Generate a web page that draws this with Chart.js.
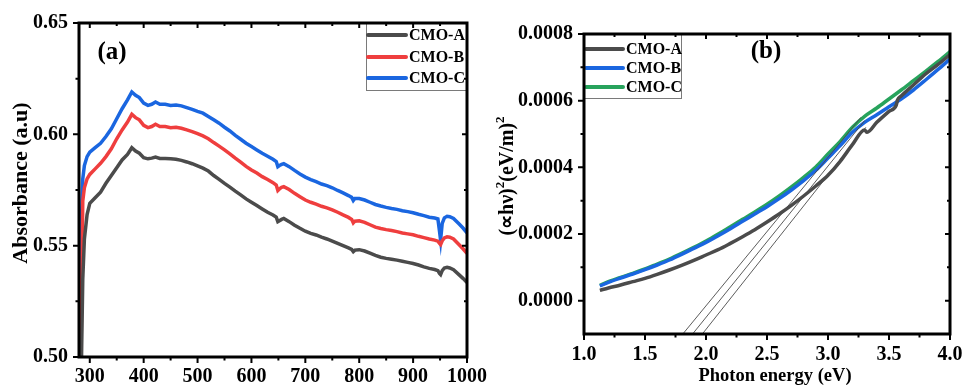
<!DOCTYPE html>
<html><head><meta charset="utf-8">
<script src="https://cdn.jsdelivr.net/npm/chart.js@4.4.1/dist/chart.umd.min.js"></script>
<style>
html,body{margin:0;padding:0;background:#fff;width:972px;height:388px;overflow:hidden}
#ca{position:absolute;left:0;top:0}
#cb{position:absolute;left:490px;top:0}
</style></head><body>
<canvas id="ca" width="490" height="388"></canvas>
<canvas id="cb" width="482" height="388"></canvas>
<script>
// ---------- Panel (a): absorbance ----------
const wavelength = [283,285,287,290,295,300,310,320,330,340,350,360,370,378,385,392,400,408,415,422,430,440,450,460,470,480,490,500,510,520,530,540,550,560,570,580,590,600,610,620,630,640,646,649,652,656,660,670,680,690,700,710,720,730,740,750,760,770,780,786,789,792,800,810,820,830,840,850,860,870,880,890,900,910,920,930,940,946,949,951,954,958,963,968,975,985,993,1000];
const absA = [0.47,0.505,0.535,0.553,0.564,0.569,0.5715,0.574,0.578,0.5815,0.585,0.5885,0.591,0.594,0.5925,0.5915,0.5895,0.589,0.5893,0.5898,0.5892,0.5892,0.589,0.5888,0.5883,0.5876,0.5868,0.5858,0.5848,0.5835,0.5815,0.5798,0.578,0.5763,0.5745,0.5728,0.571,0.5695,0.568,0.5665,0.565,0.5638,0.5628,0.5608,0.5612,0.5618,0.5622,0.5608,0.5592,0.5578,0.5565,0.5555,0.5548,0.5538,0.553,0.552,0.551,0.55,0.549,0.5483,0.5473,0.548,0.5482,0.5476,0.5466,0.5456,0.5448,0.5443,0.5439,0.5435,0.543,0.5425,0.542,0.5413,0.5405,0.5398,0.5393,0.5388,0.5375,0.537,0.5388,0.54,0.5403,0.54,0.5392,0.537,0.5352,0.5335];
const absB = [0.48,0.53,0.570,0.576,0.580,0.582,0.5845,0.587,0.590,0.5935,0.598,0.602,0.6055,0.609,0.6075,0.6065,0.604,0.603,0.6035,0.6045,0.6035,0.6035,0.603,0.6032,0.6027,0.602,0.6012,0.6003,0.5993,0.598,0.5963,0.5947,0.593,0.5912,0.5893,0.5875,0.5856,0.584,0.5826,0.581,0.5797,0.5783,0.5772,0.5748,0.5755,0.5762,0.5765,0.5752,0.5735,0.572,0.5705,0.5695,0.5687,0.5677,0.567,0.5661,0.565,0.5638,0.5627,0.5618,0.5602,0.561,0.5612,0.5605,0.5594,0.5583,0.5577,0.5572,0.5568,0.5563,0.5557,0.5553,0.5549,0.5542,0.5536,0.553,0.5525,0.552,0.551,0.5505,0.5522,0.5535,0.554,0.5538,0.553,0.5505,0.5485,0.5465];
const absC = [0.49,0.565,0.580,0.586,0.590,0.592,0.594,0.596,0.599,0.6025,0.607,0.6115,0.6155,0.619,0.6175,0.6165,0.614,0.613,0.6135,0.6145,0.6135,0.6135,0.613,0.6132,0.6128,0.612,0.6112,0.6103,0.6095,0.608,0.6065,0.605,0.6032,0.6015,0.5995,0.5978,0.596,0.5945,0.593,0.5915,0.5902,0.5888,0.5878,0.5855,0.586,0.5865,0.5868,0.5855,0.5838,0.5822,0.5808,0.5797,0.5788,0.5777,0.577,0.576,0.5748,0.5737,0.5725,0.5717,0.5703,0.5712,0.5712,0.5705,0.5695,0.5685,0.5678,0.5672,0.5667,0.5663,0.5657,0.5653,0.5648,0.5641,0.5635,0.5628,0.5624,0.562,0.5565,0.5525,0.56,0.5625,0.5632,0.563,0.5622,0.5598,0.5578,0.5558];
const aXTicks = [300,400,500,600,700,800,900,1000];
const aXMinor = [350,450,550,650,750,850,950];
const aYTicks = [0.50,0.55,0.60,0.65];
const aYMinor = [0.525,0.575,0.625];
const aLabels = ['CMO-A','CMO-B','CMO-C'];

// ---------- Panel (b): Tauc plot ----------
const energyA = [1.13,1.2,1.3,1.4,1.5,1.6,1.7,1.8,1.9,2.0,2.1,2.2,2.3,2.4,2.5,2.6,2.7,2.8,2.9,3.0,3.1,3.2,3.3,3.32,3.4,3.5,3.56,3.57,3.6,3.7,3.8,3.9,4.0];
const taucA = [0.000031,0.000038,0.000047,0.000057,0.000067,0.000079,0.000092,0.000106,0.000121,0.000137,0.000153,0.000172,0.000192,0.000213,0.000236,0.000260,0.000286,0.000314,0.000344,0.000376,0.000418,0.000468,0.000512,0.000505,0.000535,0.000568,0.000587,0.000602,0.000614,0.000647,0.000680,0.000708,0.000738];
const energyBC = [1.13,1.2,1.3,1.4,1.5,1.6,1.7,1.8,1.9,2.0,2.1,2.2,2.3,2.4,2.5,2.6,2.7,2.8,2.9,3.0,3.1,3.2,3.3,3.4,3.5,3.6,3.7,3.8,3.9,4.0];
const taucB = [0.000044,0.000055,0.000068,0.000080,0.000093,0.000107,0.000122,0.000139,0.000157,0.000175,0.000195,0.000216,0.000238,0.000260,0.000282,0.000306,0.000332,0.000360,0.000391,0.000428,0.000465,0.000505,0.000535,0.000558,0.000582,0.000605,0.000632,0.000662,0.000693,0.000725];
const taucC = [0.000046,0.000057,0.000070,0.000082,0.000095,0.000110,0.000125,0.000142,0.000160,0.000179,0.000200,0.000222,0.000244,0.000266,0.000289,0.000314,0.000341,0.000370,0.000401,0.000440,0.000478,0.000520,0.000553,0.000578,0.000605,0.000632,0.000660,0.000688,0.000717,0.000747];
const fitX1 = [1.81,3.27], fitY1 = [-0.0001,0.00055];
const fitX2 = [1.89,3.30], fitY2 = [-0.0001,0.00054];
const fitX3 = [1.97,3.31], fitY3 = [-0.0001,0.00052];
const bXTicks = [1.0,1.5,2.0,2.5,3.0,3.5,4.0];
const bXMinor = [1.25,1.75,2.25,2.75,3.25,3.75];
const bYTicks = [0.0000,0.0002,0.0004,0.0006,0.0008];
const bYMinor = [0.0001,0.0003,0.0005,0.0007];
const bLabels = ['CMO-A','CMO-B','CMO-C'];

// ---------- helpers ----------
const FONT = '"Liberation Serif", "Times New Roman", serif';
const pts = (xs, ys) => xs.map((x, i) => ({x, y: ys[i]}));
Chart.defaults.font.family = FONT;
Chart.defaults.color = '#000';

const framePlugin = {
  id: 'frame',
  afterDatasetsDraw(chart, args, o) {
    const ctx = chart.ctx;
    ctx.save();
    const L = o.legend;
    ctx.strokeStyle = '#7a7a7a'; ctx.lineWidth = 1;
    ctx.strokeRect(L.box[0] + 0.5, L.box[1] + 0.5, L.box[2] - L.box[0], L.box[3] - L.box[1]);
    ctx.font = 'bold 16px ' + FONT;
    ctx.textAlign = 'left'; ctx.textBaseline = 'middle';
    L.items.forEach((it, i) => {
      ctx.strokeStyle = it.color; ctx.lineWidth = 4; ctx.lineCap = 'round';
      ctx.beginPath(); ctx.moveTo(L.line[0], it.y); ctx.lineTo(L.line[1], it.y); ctx.stroke();
      ctx.fillStyle = '#000';
      ctx.fillText(it.label, L.textX, it.y + 1);
    });
    ctx.restore();
  },
  afterDraw(chart, args, o) {
    const {ctx, chartArea: a, scales: {x, y}} = chart;
    ctx.save();
    ctx.strokeStyle = '#000';
    ctx.lineCap = 'butt';
    ctx.lineWidth = 2;
    const mk = (vals, major) => {
      const out = major ? 6 : 3.5, inn = major ? 5 : 3;
      vals.forEach(v => {
        const px = x.getPixelForValue(v);
        ctx.beginPath();
        ctx.moveTo(px, a.bottom); ctx.lineTo(px, a.bottom + out);
        ctx.moveTo(px, a.top); ctx.lineTo(px, a.top + inn);
        ctx.stroke();
      });
    };
    const mky = (vals, major) => {
      const out = major ? 6 : 3.5, inn = major ? 5 : 3;
      vals.forEach(v => {
        const py = y.getPixelForValue(v);
        ctx.beginPath();
        ctx.moveTo(a.left, py); ctx.lineTo(a.left - out, py);
        ctx.moveTo(a.right, py); ctx.lineTo(a.right - inn, py);
        ctx.stroke();
      });
    };
    mk(o.xMajor, true); mk(o.xMinor, false);
    mky(o.yMajor, true); mky(o.yMinor, false);
    ctx.lineWidth = 3;
    ctx.strokeRect(a.left, a.top, a.right - a.left, a.bottom - a.top);
    ctx.fillStyle = '#000';
    ctx.textBaseline = 'middle';
    o.texts.forEach(t => {
      ctx.save();
      ctx.translate(t.x, t.y);
      if (t.rot) ctx.rotate(t.rot);
      ctx.textAlign = 'center';
      if (t.parts) {
        let total = 0;
        t.parts.forEach(p => { ctx.font = 'bold ' + p.size + 'px ' + FONT; total += ctx.measureText(p.s).width; });
        let cx = -total / 2;
        ctx.textAlign = 'left';
        t.parts.forEach(p => {
          ctx.font = 'bold ' + p.size + 'px ' + FONT;
          ctx.fillText(p.s, cx, p.dy || 0);
          cx += ctx.measureText(p.s).width;
        });
      } else {
        ctx.font = 'bold ' + t.size + 'px ' + FONT;
        ctx.fillText(t.s, 0, 0);
      }
      ctx.restore();
    });
    ctx.restore();
  }
};

const tickFont = {family: FONT, size: 20, weight: 'bold'};
function axisCommon(extra) {
  return Object.assign({
    type: 'linear',
    grid: {display: false, drawTicks: false},
    border: {display: false},
    ticks: {font: tickFont, color: '#000'}
  }, extra);
}
const fitX = h => s => { s.height = h; s.paddingLeft = 0; s.paddingRight = 0; };
const fitY = w => s => { s.width = w; s.paddingTop = 0; s.paddingBottom = 0; };

// ---------- chart (a) ----------
const colA = ['#4b4b4b', '#ef3e3e', '#1a66e0'];
new Chart(document.getElementById('ca'), {
  type: 'line',
  data: {
    datasets: [absA, absB, absC].map((s, i) => ({
      label: aLabels[i], data: pts(wavelength, s), borderColor: colA[i],
      borderWidth: 3.5, pointRadius: 0, tension: 0, fill: false
    }))
  },
  plugins: [framePlugin],
  options: {
    responsive: false, animation: false, devicePixelRatio: 1,
    layout: {padding: {left: 0, top: 23, right: 23, bottom: 0}},
    plugins: {
      legend: {display: false}, tooltip: {enabled: false},
      frame: {
        xMajor: aXTicks, xMinor: aXMinor, yMajor: aYTicks, yMinor: aYMinor,
        legend: {box: [366, 23, 467, 90], line: [368, 406], textX: 409,
          items: aLabels.map((l, i) => ({label: l, color: colA[i], y: [35, 57, 78][i]}))},
        texts: [
          {s: '(a)', x: 112, y: 53, size: 25},
          {s: 'Absorbance (a.u)', x: 21, y: 183, size: 22, rot: -Math.PI / 2}
        ]
      }
    },
    scales: {
      x: axisCommon({min: 280, max: 1000,
        afterBuildTicks: s => { s.ticks = aXTicks.map(v => ({value: v})); },
        afterFit: fitX(31),
        ticks: {font: tickFont, color: '#000', padding: 8, maxRotation: 0, autoSkip: false, callback: v => String(v)}}),
      y: axisCommon({min: 0.50, max: 0.65,
        afterBuildTicks: s => { s.ticks = aYTicks.map(v => ({value: v})); },
        afterFit: fitY(79),
        ticks: {font: tickFont, color: '#000', padding: 11, autoSkip: false, callback: v => Number(v).toFixed(2)}})
    }
  }
});

// ---------- chart (b) ----------
const colB = ['#4b4b4b', '#1a66e0', '#27a35c'];
const fitStyle = {borderColor: '#4a4a4a', borderWidth: 0.9, pointRadius: 0, fill: false};
new Chart(document.getElementById('cb'), {
  type: 'line',
  data: {
    datasets: [
      Object.assign({label: 'fit1', data: pts(fitX1, fitY1)}, fitStyle),
      Object.assign({label: 'fit2', data: pts(fitX2, fitY2)}, fitStyle),
      Object.assign({label: 'fit3', data: pts(fitX3, fitY3)}, fitStyle),
      {label: bLabels[0], data: pts(energyA, taucA), borderColor: colB[0], borderWidth: 3.5, pointRadius: 0, cubicInterpolationMode: 'monotone', fill: false},
      {label: bLabels[1], data: pts(energyBC, taucB), borderColor: colB[1], borderWidth: 3.5, pointRadius: 0, cubicInterpolationMode: 'monotone', fill: false},
      {label: bLabels[2], data: pts(energyBC, taucC), borderColor: colB[2], borderWidth: 3.5, pointRadius: 0, cubicInterpolationMode: 'monotone', fill: false}
    ]
  },
  plugins: [framePlugin],
  options: {
    responsive: false, animation: false, devicePixelRatio: 1,
    layout: {padding: {left: 0, top: 34, right: 22, bottom: 0}},
    plugins: {
      legend: {display: false}, tooltip: {enabled: false},
      frame: {
        xMajor: bXTicks, xMinor: bXMinor, yMajor: bYTicks, yMinor: bYMinor,
        legend: {box: [94, 34, 191, 98], line: [96, 133], textX: 136,
          items: bLabels.map((l, i) => ({label: l, color: colB[i], y: [49, 68, 87][i]}))},
        texts: [
          {s: '(b)', x: 276, y: 52, size: 25},
          {x: 18, y: 176, rot: -Math.PI / 2, parts: [
            {s: '(\u221Dh\u03BD)', size: 20},
            {s: '2', size: 13, dy: -7},
            {s: '(eV/m)', size: 20},
            {s: '2', size: 13, dy: -7}
          ]},
          {s: 'Photon energy (eV)', x: 285, y: 376, size: 18.5}
        ]
      }
    },
    scales: {
      x: axisCommon({min: 1.0, max: 4.0,
        afterBuildTicks: s => { s.ticks = bXTicks.map(v => ({value: v})); },
        afterFit: fitX(54),
        ticks: {font: tickFont, color: '#000', padding: 9, maxRotation: 0, autoSkip: false, callback: v => Number(v).toFixed(1)}}),
      y: axisCommon({min: -0.0001, max: 0.0008,
        afterBuildTicks: s => { s.ticks = bYTicks.map(v => ({value: v})); },
        afterFit: fitY(94),
        ticks: {font: tickFont, color: '#000', padding: 11, autoSkip: false, callback: v => Number(v).toFixed(4)}})
    }
  }
});
</script>
</body></html>
